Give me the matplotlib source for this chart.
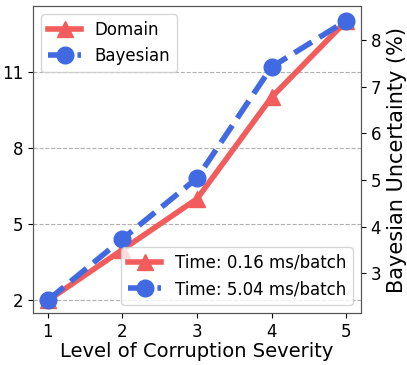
import matplotlib.pyplot as plt

levels = [1, 2, 3, 4, 5]
domain = [2.0, 4.0, 6.0, 10.0, 13.0]
bayesian = [2.43, 3.74, 5.04, 7.42, 8.41]
left_ticks = [2, 5, 8, 11]
right_ticks = [3, 4, 5, 6, 7, 8]

red = '#F25C5C'
blue = '#4169E1'

fig = plt.figure(figsize=(4.07, 3.65), dpi=100)
ax1 = fig.add_subplot(111)
fig.subplots_adjust(left=0.081, right=0.887, top=0.984, bottom=0.142)

l1, = ax1.plot(levels, domain, color=red, linewidth=4, marker='^', markersize=12, label='Domain')
ax1.set_ylim(1.5, 13.6)
ax1.set_yticks(left_ticks)
ax1.set_xticks(levels)
ax1.grid(axis='y', linestyle='--', color='#b0b0b0', linewidth=0.8)
ax1.set_xlabel("Level of Corruption Severity", fontsize=14, labelpad=1)
ax1.tick_params(axis='both', labelsize=12)

ax2 = ax1.twinx()
l2, = ax2.plot(levels, bayesian, color=blue, linewidth=4, linestyle='--', marker='o', markersize=12, label='Bayesian')
ax2.set_ylim(2.15, 8.73)
ax2.set_yticks(right_ticks)
ax2.set_ylabel("Bayesian Uncertainty (%)", fontsize=15)
ax2.tick_params(axis='y', labelsize=12)

for ax in (ax1, ax2):
    for s in ax.spines.values():
        s.set_color('#555555')

leg1 = ax2.legend([l1, l2], ['Domain', 'Bayesian'], loc='upper left', fontsize=12)
ax2.add_artist(leg1)
ax2.legend([l1, l2], ['Time: 0.16 ms/batch', 'Time: 5.04 ms/batch'], loc='lower right', fontsize=12)

fig.savefig('out.png', dpi=100)
